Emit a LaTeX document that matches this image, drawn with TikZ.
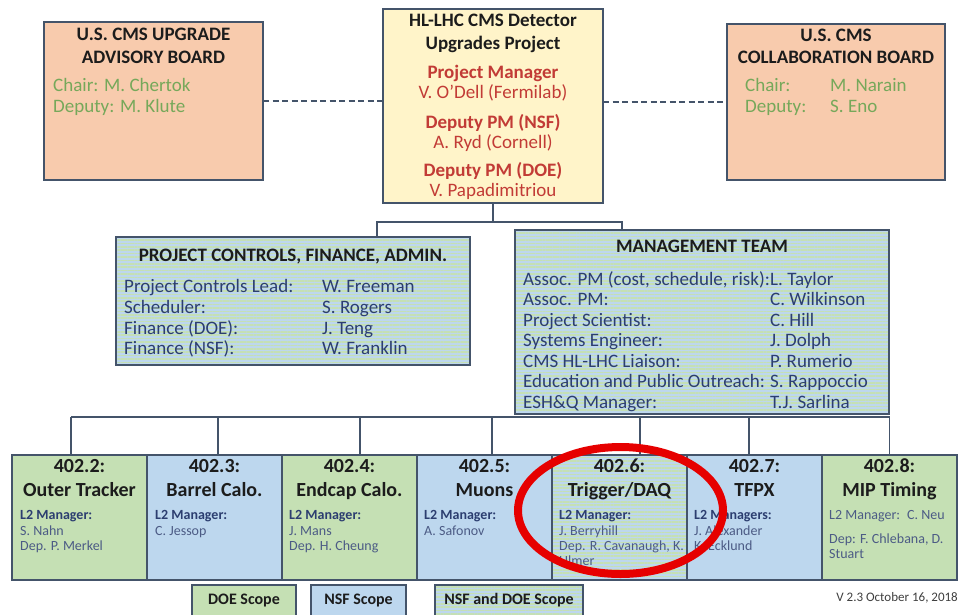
\documentclass[tikz,border=0pt]{standalone}
\usepackage{fontspec}
\setmainfont{Carlito}
\usetikzlibrary{calc,patterns.meta}

\definecolor{cmsline}{HTML}{44546A}
\definecolor{cmspeach}{HTML}{F8CBAD}
\definecolor{cmsyellow}{HTML}{FFF4C9}
\definecolor{cmsgreen}{HTML}{C5E0B4}
\definecolor{cmsblue}{HTML}{BDD7EE}
\definecolor{cmsred}{HTML}{C23B36}
\definecolor{cmsolive}{HTML}{76A85A}
\definecolor{cmsnavy}{HTML}{2C3E70}
\definecolor{cmsink}{HTML}{1C1C1C}
\definecolor{ringred}{HTML}{E60000}

\tikzset{
  box/.style 2 args={draw=cmsline, line width=2pt, minimum width=#1pt, minimum height=#2pt, inner sep=0pt, outer sep=0pt},
  doe/.style={fill=cmsgreen},
  nsf/.style={fill=cmsblue},
  both/.style={preaction={fill=cmsblue}, preaction={pattern={Lines[angle=0,distance=3.4pt,line width=1.7pt]}, pattern color=cmsgreen}},
  link/.style={draw=cmsline, line width=1.6pt},
  dashlink/.style={link, dash pattern=on 6pt off 3.5pt},
  head/.style={inner sep=0pt, anchor=mid, text=cmsink, font=\fontsize{19}{23}\selectfont\bfseries},
  lead/.style={head, text=cmsred},
  leadname/.style={inner sep=0pt, anchor=mid, text=cmsred, font=\fontsize{19}{23}\selectfont},
  board/.style={inner sep=0pt, anchor=mid west, text=cmsolive, font=\fontsize{19}{23}\selectfont},
  roster/.style={inner sep=0pt, anchor=mid west, text=cmsnavy, font=\fontsize{19}{23}\selectfont},
  wbstitle/.style={inner sep=0pt, anchor=mid, text=cmsink, font=\fontsize{20}{24}\selectfont\bfseries},
  l2head/.style={inner sep=0pt, anchor=mid west, text=cmsnavy, font=\fontsize{14}{15}\selectfont\bfseries},
  l2name/.style={l2head, text=cmsnavy!85, font=\fontsize{14}{15}\selectfont},
  legend/.style={inner sep=0pt, anchor=mid, text=cmsink, font=\fontsize{16}{18}\selectfont\bfseries},
  markring/.style={draw=ringred, line width=8pt}
}

\begin{document}
\begin{tikzpicture}[x=1pt, y=-1pt]
\useasboundingbox (0,0) rectangle (963,614);

% top row: the two boards and the project office
\node[box={219}{158}, fill=cmspeach] (advisory) at (153.5,101) {};
\node[box={220}{194}, fill=cmsyellow] (project) at (493,106) {};
\node[box={218}{156}, fill=cmspeach] (collab) at (836,102) {};

\draw[dashlink] (advisory.east) -- (advisory.east -| project.west);
\draw[dashlink] (collab.west -| project.east) -- (collab.west);

\node[head] (advisory-t1) at (153.5,38.5) {U.S. CMS UPGRADE};
\node[head] (advisory-t2) at (153.5,61.5) {ADVISORY BOARD};
\node[board] (advisory-chair) at (53,89.5) {Chair: M. Chertok};
\node[board] (advisory-deputy) at (53,110.5) {Deputy: M. Klute};

\node[head] (project-t1) at (493,24.5) {HL-LHC CMS Detector};
\node[head] (project-t2) at (493,47.5) {Upgrades Project};
\node[lead] (pm) at (493,76.5) {Project Manager};
\node[leadname] (pm-name) at (493,96.5) {V. O'Dell (Fermilab)};
\node[lead] (dpm-nsf) at (493,126) {Deputy PM (NSF)};
\node[leadname] (dpm-nsf-name) at (493,146.5) {A. Ryd (Cornell)};
\node[lead] (dpm-doe) at (493,174.5) {Deputy PM (DOE)};
\node[leadname] (dpm-doe-name) at (493,194.5) {V. Papadimitriou};

\node[head] (collab-t1) at (836,39.5) {U.S. CMS};
\node[head] (collab-t2) at (836,61.5) {COLLABORATION BOARD};
\node[board] (collab-chair) at (745,89.5) {Chair:};
\node[board] (collab-chair-name) at (830,89.5) {M. Narain};
\node[board] (collab-deputy) at (745,110.5) {Deputy:};
\node[board] (collab-deputy-name) at (830,110.5) {S. Eno};

% second row
\node[box={354}{128}, both] (controls) at (293,301) {};
\node[box={374}{184}, both] (mgmt) at (702,322) {};

\coordinate (fork) at (493,222);
\draw[link] (project.south) -- (fork);
\draw[link] (fork) -| ($(controls.north)+(84,0)$);
\draw[link] (fork) -| ($(mgmt.north)+(-80,0)$);

\node[head] (controls-t) at (293,259.5) {PROJECT CONTROLS, FINANCE, ADMIN.};
\foreach \role/\who [count=\i] in {Project Controls Lead:/W. Freeman, Scheduler:/S. Rogers, Finance (DOE):/J. Teng, Finance (NSF):/W. Franklin} {
  \node[roster] (ctl-role\i) at (124,269.8+20.7*\i) {\role};
  \node[roster] (ctl-name\i) at (322,269.8+20.7*\i) {\who};
}

\node[head] (mgmt-t) at (702,250.5) {MANAGEMENT TEAM};
\foreach \role/\who [count=\i] in {{Assoc. PM (cost, schedule, risk):}/L. Taylor, Assoc. PM:/C. Wilkinson, Project Scientist:/C. Hill, Systems Engineer:/J. Dolph, CMS HL-LHC Liaison:/P. Rumerio, Education and Public Outreach:/S. Rappoccio, ESH\&Q Manager:/T.J. Sarlina} {
  \node[roster] (mgmt-role\i) at (523,262.5+20.5*\i) {\role};
  \node[roster] (mgmt-name\i) at (770,262.5+20.5*\i) {\who};
}

% L2 boxes
\node[box={135}{125}, doe] (wbs2) at (79.5,517.5) {};
\node[box={135}{125}, nsf] (wbs3) at (214.5,517.5) {};
\node[box={135}{125}, doe] (wbs4) at (349.5,517.5) {};
\node[box={135}{125}, nsf] (wbs5) at (484.5,517.5) {};
\node[box={135}{125}, both] (wbs6) at (619.5,517.5) {};
\node[box={135}{125}, nsf] (wbs7) at (754.5,517.5) {};
\node[box={135}{125}, doe] (wbs8) at (889.5,517.5) {};

\foreach \b/\dx in {wbs2/-8.5, wbs3/3.5, wbs4/10.5, wbs5/7.5, wbs6/20.5, wbs7/-5.5, wbs8/0}
  \draw[link] ($(\b.north)+(\dx,-38)$) -- ($(\b.north)+(\dx,0)$);
\draw[link] ($(wbs2.north)+(-8.5,-38)$) -- ($(wbs8.north)+(0,-38)$);

\foreach \b/\num/\title in {wbs2/402.2:/Outer Tracker, wbs3/402.3:/Barrel Calo., wbs4/402.4:/Endcap Calo., wbs5/402.5:/Muons, wbs6/402.6:/{Trigger/DAQ}, wbs7/402.7:/TFPX, wbs8/402.8:/MIP Timing} {
  \node[wbstitle] (\b-num) at ($(\b.north)+(0,15.5)$) {\num};
  \node[wbstitle] (\b-title) at ($(\b.north)+(0,39.5)$) {\title};
}

\node[l2head] (wbs2-l2) at (20,516.7) {L2 Manager:};
\node[l2name] (wbs2-m1) at (20,532.7) {S. Nahn};
\node[l2name] (wbs2-m2) at (20,547.7) {Dep. P. Merkel};

\node[l2head] (wbs3-l2) at (155,516.7) {L2 Manager:};
\node[l2name] (wbs3-m1) at (155,532.7) {C. Jessop};

\node[l2head] (wbs4-l2) at (289,516.7) {L2 Manager:};
\node[l2name] (wbs4-m1) at (289,532.7) {J. Mans};
\node[l2name] (wbs4-m2) at (289,547.7) {Dep. H. Cheung};

\node[l2head] (wbs5-l2) at (424,516.7) {L2 Manager:};
\node[l2name] (wbs5-m1) at (424,532.7) {A. Safonov};

\node[l2head] (wbs6-l2) at (559,516.7) {L2 Manager:};
\node[l2name] (wbs6-m1) at (559,532.7) {J. Berryhill};
\node[l2name] (wbs6-m2) at (559,547.7) {Dep. R. Cavanaugh, K.};
\node[l2name] (wbs6-m3) at (559,562.7) {Ulmer};

\node[l2head] (wbs7-l2) at (694,516.7) {L2 Managers:};
\node[l2name] (wbs7-m1) at (694,532.7) {J. Alexander};
\node[l2name] (wbs7-m2) at (694,547.7) {K. Ecklund};

\node[l2name] (wbs8-l2) at (829,516.7) {L2 Manager:\enspace C. Neu};
\node[l2name] (wbs8-m1) at (829,540.7) {Dep: F. Chlebana, D.};
\node[l2name] (wbs8-m2) at (829,555.7) {Stuart};

% key
\node[box={104}{32}, doe] (key-doe) at (244,601) {};
\node[box={95}{32}, nsf] (key-nsf) at (358.5,601) {};
\node[box={148}{32}, both] (key-both) at (509,601) {};
\node[legend] (key-doe-t) at ($(key-doe)+(0,1.5)$) {DOE Scope};
\node[legend] (key-nsf-t) at ($(key-nsf)+(0,1.5)$) {NSF Scope};
\node[legend] (key-both-t) at ($(key-both)+(0,1.5)$) {NSF and DOE Scope};

\node[inner sep=0pt, anchor=mid east, text=cmsink!85, font=\fontsize{13}{15}\selectfont] (version) at (958,599.5) {V 2.3 October 16, 2018};

% highlight ring
\draw[markring] (620.5,510.5) ellipse [x radius=102.5, y radius=63.5];
\end{tikzpicture}
\end{document}
